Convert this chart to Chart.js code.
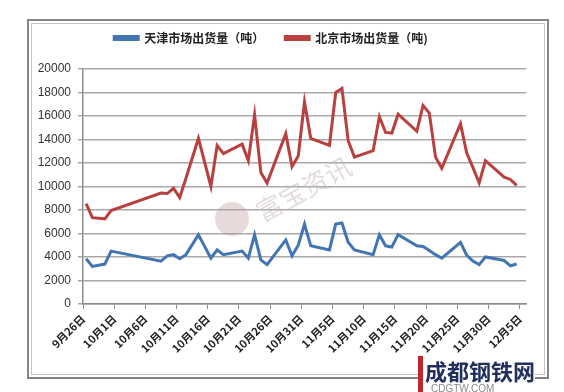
<!DOCTYPE html>
<html>
<head>
<meta charset="utf-8">
<script src="https://cdn.jsdelivr.net/npm/chart.js@4.4.0/dist/chart.umd.min.js"></script>
<style>
  html, body { margin: 0; padding: 0; background: #fff; }
  #wrap { position: relative; width: 564px; height: 392px; overflow: hidden; }
  #frame {
    position: absolute; left: 27px; top: 19px; width: 518px; height: 356px;
    border: 2px solid #858585;
    box-shadow: inset 0 0 0 2px #fff, inset 0 0 0 3px #c4c4c4;
    pointer-events: none;
  }
  #logo {
    position: absolute; left: 418px; top: 356px;
    font: bold 22px "Noto Sans CJK SC", sans-serif; color: #22305e;
    border-left: 5px solid #c0272d; padding-left: 2px; line-height: 28px;
    background: #fff;
  }
  #logo small { display: block; font: 10px "Liberation Sans", sans-serif; color: #8a8a8a; margin-left: 6px; line-height: 10px; }
</style>
</head>
<body>
<div id="wrap">
  <canvas id="chart" width="564" height="392"></canvas>
  <div id="frame"></div>
  <div id="logo">成都钢铁网<small>CDGTW.COM</small></div>
</div>
<script>
// 2013年 交易日
const dates = [
  "9/26", "9/27", "9/29", "9/30", "10/8", "10/9", "10/10", "10/11", "10/12",
  "10/14", "10/16", "10/17", "10/18", "10/21", "10/22", "10/23", "10/24", "10/25",
  "10/28", "10/29", "10/30", "10/31", "11/1", "11/4", "11/5", "11/6", "11/7", "11/8",
  "11/11", "11/12", "11/13", "11/14", "11/15", "11/18", "11/19", "11/20", "11/21", "11/22",
  "11/25", "11/26", "11/27", "11/28", "11/29", "12/2", "12/3", "12/4"
];
const tianjin = [
  3850, 3200, 3400, 4500, 3650, 4100, 4200, 3850, 4200,
  5900, 3900, 4600, 4200, 4500, 3900, 5900, 3750, 3350,
  5450, 4100, 5000, 6800, 4950, 4600, 6800, 6900, 5250, 4600,
  4200, 5900, 4950, 4850, 5900, 4950, 4900, 4550, 4200, 3900,
  5250, 4150, 3650, 3350, 4000, 3700, 3250, 3400
];
const beijing = [
  8550, 7350, 7250, 7950, 9450, 9400, 9850, 9050, 10700,
  14100, 10000, 13500, 12800, 13600, 12200, 16100, 11200, 10300,
  14500, 11700, 12600, 17200, 14100, 13500, 18000, 18350, 13900, 12500,
  13050, 15950, 14600, 14550, 16150, 14700, 16900, 16250, 12500, 11550,
  15350, 12850, 11600, 10300, 12200, 10800, 10600, 10100
];
const tickLabels = [
  "9月26日", "10月1日", "10月6日", "10月11日", "10月16日", "10月21日", "10月26日",
  "10月31日", "11月5日", "11月10日", "11月15日", "11月20日", "11月25日", "11月30日", "12月5日"
];

const baseDay = Date.UTC(2013, 8, 26);
function dayIndex(s) {
  const p = s.split("/").map(Number);
  return (Date.UTC(2013, p[0] - 1, p[1]) - baseDay) / 86400000;
}

// espacio extra debajo de la leyenda
const legendGap = {
  id: "legendGap",
  beforeInit(chart) {
    const fit = chart.legend.fit;
    chart.legend.fit = function () {
      fit.bind(chart.legend)();
      this.height += 15;
    };
  }
};

const watermark = {
  id: "watermark",
  beforeDatasetsDraw(chart) {
    const c = chart.ctx;
    c.save();
    c.fillStyle = "rgba(190,150,150,0.35)";
    c.beginPath();
    c.arc(232, 219, 17, 0, Math.PI * 2);
    c.fill();
    c.translate(258, 214);
    c.rotate(-0.5);
    c.fillStyle = "rgba(200,185,185,0.5)";
    c.font = "26px 'Noto Sans CJK SC'";
    c.textBaseline = "middle";
    c.fillText("富宝资讯", 0, 0);
    c.restore();
  }
};

const gridGray = "#a9a9a9";
const axisGray = "#8c8c8c";

new Chart(document.getElementById("chart").getContext("2d"), {
  type: "line",
  data: {
    datasets: [
      {
        label: "天津市场出货量（吨）",
        data: dates.map((d, i) => ({ x: dayIndex(d), y: tianjin[i] })),
        borderColor: "#4275b2",
        backgroundColor: "#4275b2",
        borderWidth: 3,
        pointRadius: 0,
        tension: 0
      },
      {
        label: "北京市场出货量（吨)",
        data: dates.map((d, i) => ({ x: dayIndex(d), y: beijing[i] })),
        borderColor: "#b8403e",
        backgroundColor: "#b8403e",
        borderWidth: 3,
        pointRadius: 0,
        tension: 0
      }
    ]
  },
  options: {
    responsive: false,
    animation: false,
    layout: { padding: { top: 11, right: 38, left: 16, bottom: 0 } },
    plugins: {
      legend: {
        position: "top",
        labels: {
          boxWidth: 24,
          boxHeight: 3,
          padding: 21,
          color: "#222",
          font: { family: "'Noto Sans CJK SC'", size: 12, weight: "bold" }
        }
      },
      tooltip: { enabled: false }
    },
    scales: {
      x: {
        type: "linear",
        min: -0.5,
        max: 70.5,
        afterBuildTicks: (axis) => {
          axis.ticks = tickLabels.map((_, i) => ({ value: i * 5 - 0.5 }));
        },
        afterFit: (axis) => { axis.height = 88; },
        ticks: {
          autoSkip: false,
          minRotation: 45,
          maxRotation: 45,
          padding: 3,
          color: "#222",
          font: { family: "'Noto Sans CJK SC'", size: 11, weight: "bold" },
          callback: (v, i) => tickLabels[i]
        },
        grid: { drawOnChartArea: false, drawTicks: true, tickLength: 5, color: axisGray },
        border: { color: axisGray, width: 1.5 }
      },
      y: {
        min: 0,
        max: 20000,
        afterFit: (axis) => { axis.width = 67; },
        ticks: {
          stepSize: 2000,
          padding: 7,
          color: "#333",
          font: { family: "'Liberation Sans'", size: 12 },
          callback: (v) => String(v)
        },
        grid: { color: gridGray, lineWidth: 1.5, tickLength: 5 },
        border: { color: axisGray, width: 1.5 }
      }
    }
  },
  plugins: [legendGap, watermark]
});
</script>
</body>
</html>
